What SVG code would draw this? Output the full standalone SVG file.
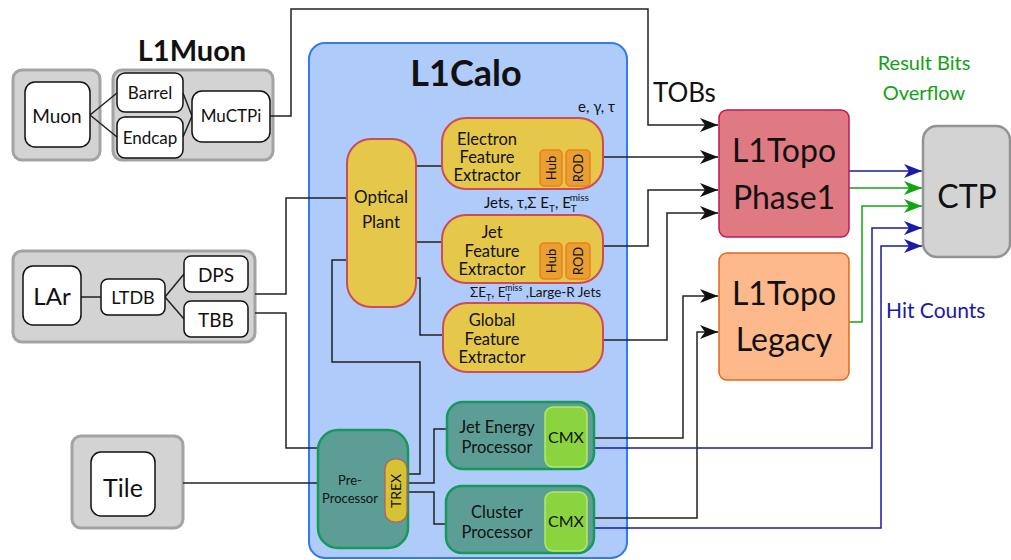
<svg xmlns="http://www.w3.org/2000/svg" width="1011" height="560" viewBox="0 0 1011 560">
<style>
text{font-family:Lato,"Open Sans","Liberation Sans",sans-serif;fill:#111}
.gray{fill:#d3d3d3;stroke:#a3a3a3;stroke-width:3}
.white{fill:#fff;stroke:#111;stroke-width:1.5}
.yel{fill:#e5c84a;stroke:#cf4a5a;stroke-width:2}
.org{fill:#e8a033;stroke:#ee7d1e;stroke-width:1.5}
.teal{fill:#5c9e96;stroke:#17995a;stroke-width:2.5}
.cmx{fill:#8bd440;stroke:#b5e86a;stroke-width:1.5}
.ln{fill:none;stroke:#222;stroke-width:1.5}
.lb{fill:none;stroke:#1a1aa8;stroke-width:1.5}
.lg{fill:none;stroke:#12a512;stroke-width:1.5}
.c{text-anchor:middle}
</style>
<defs>
<marker id="ak" markerUnits="userSpaceOnUse" markerWidth="20" markerHeight="14" refX="18" refY="7" orient="auto"><path d="M0,0 L18,7 L0,14 L5,7 z" fill="#111"/></marker>
<marker id="ab" markerUnits="userSpaceOnUse" markerWidth="20" markerHeight="14" refX="18" refY="7" orient="auto"><path d="M0,0 L18,7 L0,14 L5,7 z" fill="#1a1aa8"/></marker>
<marker id="ag" markerUnits="userSpaceOnUse" markerWidth="20" markerHeight="14" refX="18" refY="7" orient="auto"><path d="M0,0 L18,7 L0,14 L5,7 z" fill="#12a512"/></marker>
</defs>
<rect width="1011" height="560" fill="#fff"/>

<g id="l1calo">
<rect x="309" y="43" width="318" height="515" rx="16" fill="#afcbfa" stroke="#2f7af5" stroke-width="2"/>
<text x="466" y="86" class="c" font-size="36" font-weight="bold">L1Calo</text>
</g>
<g id="muon-frame">
<rect class="gray" x="13" y="70" width="87" height="90" rx="9"/>
</g>
<g id="l1muon">
<text x="192" y="61" class="c" font-size="29" font-weight="bold">L1Muon</text>
<rect class="gray" x="113" y="70" width="160" height="90" rx="9"/>
</g>
<g id="lar-group">
<rect class="gray" x="13" y="251" width="242" height="91" rx="9"/>
</g>
<g id="tile-frame">
<rect class="gray" x="72" y="436" width="111" height="92" rx="9"/>
</g>

<g id="connectors">
<path class="ln" d="M90,115 L117,93 M90,115 L117,137 M183,93 L192,116 M183,137 L192,116"/>
<path class="ln" d="M270,116 H291 V9 H648 V125 H718" marker-end="url(#ak)"/>
<path class="ln" d="M81,297 H101 M165,297 L184,274 M165,297 L184,319"/>
<path class="ln" d="M255,294 H286 V198 H347"/>
<path class="ln" d="M255,313 H286 V448 H318"/>
<path class="ln" d="M183,483 H318"/>
<path class="ln" d="M416,166 H442 M416,242 H442 M416,278 H420 V335 H443"/>
<path class="ln" d="M407,474 H420 V362 H332 V260 H347"/>
<path class="ln" d="M407,483 H434 V429 H447 M407,492 H434 V524 H446"/>
<path class="ln" d="M603,157 H718" marker-end="url(#ak)"/>
<path class="ln" d="M603,246 H648 V190 H718" marker-end="url(#ak)"/>
<path class="ln" d="M603,340 H667 V213 H718" marker-end="url(#ak)"/>
<path class="ln" d="M594,438 H683 V296 H718" marker-end="url(#ak)"/>
<path class="ln" d="M594,518 H697 V332 H718" marker-end="url(#ak)"/>
<path class="lb" d="M849,171 H922" marker-end="url(#ab)"/>
<path class="lg" d="M849,188 H922" marker-end="url(#ag)"/>
<path class="lg" d="M849,322 H862 V206 H922" marker-end="url(#ag)"/>
<path class="lb" d="M594,448 H872 V228 H922" marker-end="url(#ab)"/>
<path class="lb" d="M594,528 H881 V246 H922" marker-end="url(#ab)"/>
</g>

<g id="muon">
<rect class="white" x="25" y="82" width="65" height="65" rx="10"/>
<text x="57" y="123" class="c" font-size="19">Muon</text>
</g>
<g id="barrel">
<rect class="white" x="117" y="73" width="66" height="39" rx="8"/>
<text x="150" y="99" class="c" font-size="17">Barrel</text>
</g>
<g id="endcap">
<rect class="white" x="117" y="117" width="66" height="41" rx="8"/>
<text x="150" y="144" class="c" font-size="17">Endcap</text>
</g>
<g id="muctpi">
<rect class="white" x="192" y="91" width="78" height="51" rx="10"/>
<text x="231" y="122" class="c" font-size="17">MuCTPi</text>
</g>

<g id="lar">
<rect class="white" x="23" y="266" width="58" height="59" rx="10"/>
<text x="52" y="305" class="c" font-size="24">LAr</text>
</g>
<g id="ltdb">
<rect class="white" x="101" y="279" width="64" height="36" rx="7"/>
<text x="133" y="304" class="c" font-size="18">LTDB</text>
</g>
<g id="dps">
<rect class="white" x="184" y="256" width="64" height="36" rx="7"/>
<text x="216" y="282" class="c" font-size="19">DPS</text>
</g>
<g id="tbb">
<rect class="white" x="184" y="301" width="64" height="36" rx="7"/>
<text x="216" y="327" class="c" font-size="19">TBB</text>
</g>

<g id="tile">
<rect class="white" x="91" y="452" width="64" height="64" rx="10"/>
<text x="123" y="497" class="c" font-size="25">Tile</text>
</g>

<g id="optical-plant">
<rect class="yel" x="347" y="139" width="69" height="168" rx="24"/>
<text x="381" y="203" class="c" font-size="17">Optical</text>
<text x="381" y="228" class="c" font-size="17">Plant</text>
</g>

<g id="efex">
<text x="615" y="112" font-size="15" text-anchor="end">e, γ, τ</text>
<rect class="yel" x="442" y="118" width="161" height="71" rx="24"/>
<text x="487" y="145" class="c" font-size="16.5">Electron</text>
<text x="487" y="163" class="c" font-size="16.5">Feature</text>
<text x="487" y="181" class="c" font-size="16.5">Extractor</text>
<rect class="org" x="540" y="150" width="22" height="36" rx="4"/>
<rect class="org" x="566" y="150" width="24" height="36" rx="4"/>
<text transform="translate(556,168) rotate(-90)" class="c" font-size="13">Hub</text>
<text transform="translate(583,168) rotate(-90)" class="c" font-size="13">ROD</text>
</g>

<g id="jfex">
<text x="484" y="208" font-size="15">Jets, τ,Σ E<tspan dy="4" font-size="10">T</tspan><tspan dy="-4">, E</tspan><tspan dy="4" font-size="10">T</tspan><tspan dx="-6" dy="-11" font-size="10">miss</tspan></text>
<rect class="yel" x="442" y="215" width="161" height="68" rx="24"/>
<text x="492" y="238" class="c" font-size="16.5">Jet</text>
<text x="492" y="257" class="c" font-size="16.5">Feature</text>
<text x="492" y="275" class="c" font-size="16.5">Extractor</text>
<rect class="org" x="540" y="243" width="22" height="36" rx="4"/>
<rect class="org" x="566" y="243" width="24" height="36" rx="4"/>
<text transform="translate(556,261) rotate(-90)" class="c" font-size="13">Hub</text>
<text transform="translate(583,261) rotate(-90)" class="c" font-size="13">ROD</text>
</g>

<g id="gfex">
<text x="470" y="297" font-size="13.5">ΣE<tspan dy="4" font-size="9">T</tspan><tspan dy="-4">, E</tspan><tspan dy="4" font-size="9">T</tspan><tspan dx="-5" dy="-10" font-size="9">miss</tspan><tspan dy="6"> ,Large-R Jets</tspan></text>
<rect class="yel" x="443" y="303" width="160" height="69" rx="24"/>
<text x="492" y="326" class="c" font-size="16.5">Global</text>
<text x="492" y="345" class="c" font-size="16.5">Feature</text>
<text x="492" y="363" class="c" font-size="16.5">Extractor</text>
</g>

<g id="preprocessor">
<rect class="teal" x="318" y="430" width="90" height="118" rx="20"/>
<text x="350" y="485" class="c" font-size="13">Pre-</text>
<text x="350" y="503" class="c" font-size="13">Processor</text>
<rect x="385" y="459" width="22" height="63" rx="10" fill="#d5c235" stroke="#c25a55" stroke-width="1.2"/>
<text transform="translate(401,491) rotate(-90)" class="c" font-size="14">TREX</text>
</g>

<g id="jep">
<rect class="teal" x="447" y="402" width="147" height="67" rx="16"/>
<text x="497" y="433" class="c" font-size="16.5">Jet Energy</text>
<text x="497" y="453" class="c" font-size="16.5">Processor</text>
<rect class="cmx" x="545" y="407" width="42" height="60" rx="8"/>
<text x="566" y="443" class="c" font-size="16">CMX</text>
</g>

<g id="cp">
<rect class="teal" x="446" y="486" width="148" height="67" rx="16"/>
<text x="497" y="518" class="c" font-size="16.5">Cluster</text>
<text x="497" y="538" class="c" font-size="16.5">Processor</text>
<rect class="cmx" x="545" y="492" width="42" height="59" rx="8"/>
<text x="566" y="527" class="c" font-size="16">CMX</text>
</g>

<g id="tobs-label">
<text x="653" y="102" font-size="26">TOBs</text>
</g>

<g id="l1topo-phase1">
<rect x="719" y="110" width="130" height="127" rx="8" fill="#e07a82" stroke="#c0185a" stroke-width="1.5"/>
<text x="784" y="162" class="c" font-size="32">L1Topo</text>
<text x="784" y="209" class="c" font-size="32">Phase1</text>
</g>

<g id="l1topo-legacy">
<rect x="719" y="253" width="130" height="127" rx="8" fill="#fdb98b" stroke="#e0681a" stroke-width="1.5"/>
<text x="784" y="305" class="c" font-size="32">L1Topo</text>
<text x="784" y="351" class="c" font-size="32">Legacy</text>
</g>

<g id="ctp">
<rect x="923" y="126" width="87" height="131" rx="14" fill="#d3d3d3" stroke="#939393" stroke-width="2.5"/>
<text x="967" y="208" class="c" font-size="32">CTP</text>
</g>

<g id="labels">
<text x="924" y="70" class="c" font-size="20" style="fill:#14a014">Result Bits</text>
<text x="924" y="100" class="c" font-size="20" style="fill:#14a014">Overflow</text>
<text x="886" y="318" font-size="21" style="fill:#1a1aa8">Hit Counts</text>
</g>
</svg>
